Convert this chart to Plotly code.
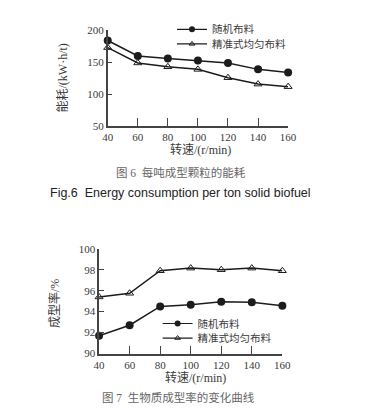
import plotly.graph_objects as go

speed = [40, 60, 80, 100, 120, 140, 160]
energy_random = [184, 160, 156, 153, 149, 139, 134]
energy_precise = [173, 149, 143, 139, 126, 116, 112]
rate_random = [91.7, 92.7, 94.5, 94.65, 94.95, 94.9, 94.55]
rate_precise = [95.4, 95.75, 97.9, 98.15, 98.0, 98.15, 97.9]
name_random = "随机布料"
name_precise = "精准式均匀布料"
xticks = [40, 60, 80, 100, 120, 140, 160]
yticks1 = [50, 100, 150, 200]
yticks2 = [90, 92, 94, 96, 98, 100]

W, H = 371, 412
FONT = "Liberation Serif, Noto Sans CJK SC, serif"
LC = "#1c1c1c"
AX = "#444444"
TXT = "#3a3a3a"

fig = go.Figure()

def add_pair(xa, ya, yr, yp, leg_r, leg_p):
    fig.add_trace(go.Scatter(x=speed, y=yr, name=name_random, mode="lines+markers",
                             line=dict(color=LC, width=1.5),
                             marker=dict(symbol="circle", size=8, color=LC),
                             xaxis=xa, yaxis=ya, showlegend=False, cliponaxis=False))
    fig.add_trace(go.Scatter(x=speed, y=yp, name=name_precise, mode="lines+markers",
                             line=dict(color=LC, width=1.5),
                             marker=dict(symbol="triangle-up-open", size=7, color=LC,
                                         line=dict(width=1)),
                             xaxis=xa, yaxis=ya, showlegend=False, cliponaxis=False))
    # legend entries (smaller sample markers, as in the reference)
    fig.add_trace(go.Scatter(x=[None], y=[None], name=name_random, mode="lines+markers",
                             line=dict(color=LC, width=1.2),
                             marker=dict(symbol="circle", size=6, color=LC),
                             xaxis=xa, yaxis=ya, legend=leg_r))
    fig.add_trace(go.Scatter(x=[None], y=[None], name=name_precise, mode="lines+markers",
                             line=dict(color=LC, width=1.2),
                             marker=dict(symbol="triangle-up-open", size=5, color=LC,
                                         line=dict(width=1)),
                             xaxis=xa, yaxis=ya, legend=leg_p))

add_pair("x", "y", energy_random, energy_precise, "legend", "legend2")
add_pair("x2", "y2", rate_random, rate_precise, "legend3", "legend4")

axis_common = dict(showgrid=False, zeroline=False, showline=True, linecolor=AX, linewidth=1.5,
                   ticks="inside", tickcolor=AX, tickwidth=1.3, ticklabeloverflow="allow",
                   tickfont=dict(family=FONT, size=11, color=TXT))

def leg(x, y):
    return dict(x=x / W, y=1 - y / H, xanchor="left", yanchor="middle",
                bgcolor="rgba(0,0,0,0)", font=dict(family=FONT, size=10.5, color=TXT),
                tracegroupgap=0, itemwidth=30)

fig.update_layout(
    width=W, height=H,
    margin=dict(l=0, r=0, t=0, b=0),
    paper_bgcolor="white", plot_bgcolor="white",
    font=dict(family=FONT, color=TXT),
    xaxis=dict(domain=[106 / W, 294 / W], range=[40, 160], tickvals=xticks, ticklen=9,
               anchor="y", **axis_common),
    yaxis=dict(domain=[1 - 124 / H, 1 - 25 / H], range=[50, 200], tickvals=yticks1, ticklen=5,
               anchor="x", **axis_common),
    xaxis2=dict(domain=[97 / W, 288 / W], range=[40, 160], tickvals=xticks, ticklen=8,
                anchor="y2", **axis_common),
    yaxis2=dict(domain=[1 - 358 / H, 1 - 250 / H], range=[90, 100], tickvals=yticks2, ticklen=5,
                anchor="x2", **axis_common),
    legend=leg(173, 24),
    legend2=leg(173, 39),
    legend3=leg(158, 327),
    legend4=leg(158, 342),
)

def ann(text, x, y, size=12, color=TXT, angle=0, family=FONT):
    fig.add_annotation(text=text, x=x / W, y=1 - y / H, xref="paper", yref="paper",
                       showarrow=False, textangle=angle, xanchor="center", yanchor="middle",
                       font=dict(family=family, size=size, color=color))

ann("能耗/(kW·h/t)", 59, 74, size=12, angle=-90)
ann("转速/(r/min)", 203, 148, size=12)
ann("图 6  每吨成型颗粒的能耗", 182, 172, size=11.5, color="#666666")
ann("Fig.6  Energy consumption per ton solid biofuel", 182, 193, size=12.5, color="#222222",
    family="Liberation Sans, Arial, sans-serif")

ann("成型率/%", 50, 306, size=12, angle=-90)
ann("转速/(r/min)", 197, 383, size=12)
ann("图 7  生物质成型率的变化曲线", 180, 403, size=11.5, color="#666666")

fig.write_html("out.html", config={"displayModeBar": False},
               post_script="document.body.style.margin='0';document.body.style.overflow='hidden';")
